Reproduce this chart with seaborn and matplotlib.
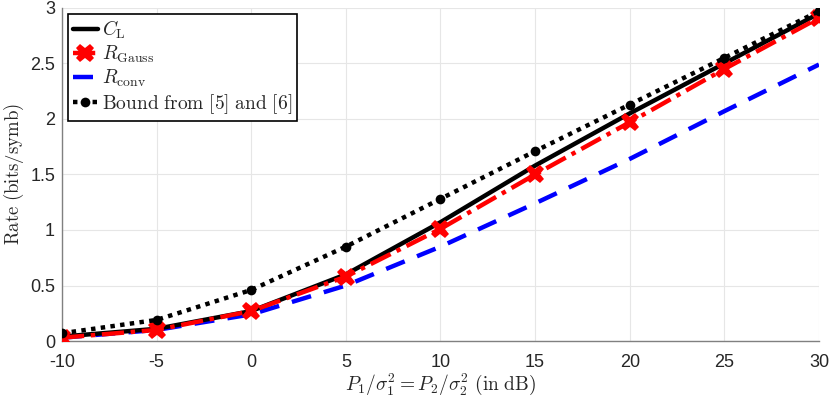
import numpy as np
import pandas as pd
import matplotlib
matplotlib.use("Agg")
import matplotlib.pyplot as plt
import seaborn as sns

# data
snr_db = [-10, -5, 0, 5, 10, 15, 20, 25, 30]
c_l = [0.04, 0.11, 0.27, 0.60, 1.07, 1.58, 2.05, 2.50, 2.95]
r_gauss = [0.03, 0.10, 0.27, 0.58, 1.01, 1.50, 1.97, 2.45, 2.91]
r_conv = [0.03, 0.10, 0.24, 0.50, 0.85, 1.24, 1.64, 2.07, 2.49]
bound = [0.07, 0.19, 0.46, 0.85, 1.28, 1.71, 2.13, 2.55, 2.97]

sns.set_style("white")
plt.rcParams['font.family'] = ['Liberation Sans', 'DejaVu Sans']
plt.rcParams['mathtext.fontset'] = 'cm'
plt.rcParams['axes.unicode_minus'] = False

fig = plt.figure(figsize=(8.3, 3.97), dpi=100)
ax = fig.add_axes([0.0747, 0.141, 0.912, 0.839])

# black solid
sns.lineplot(x=snr_db, y=c_l, ax=ax, color='black', lw=3.2,
             label=r'$C_\mathrm{L}$', zorder=3)
# red dash-dot with X
sns.lineplot(x=snr_db, y=r_gauss, ax=ax, color='red', lw=3.2,
             marker='X', markersize=13, markeredgewidth=0,
             label=r'$R_\mathrm{Gauss}$', zorder=4)
ax.lines[-1].set_dashes([5, 1.5, 1, 1.5])
# blue dashed
sns.lineplot(x=snr_db, y=r_conv, ax=ax, color='blue', lw=3.2,
             label=r'$R_\mathrm{conv}$', zorder=2)
ax.lines[-1].set_dashes([4.5, 3])
# dotted bound
sns.lineplot(x=snr_db, y=bound, ax=ax, color='black', lw=3.2,
             marker='o', markersize=7, markeredgewidth=0,
             label=r'$\mathrm{Bound\ from\ [5]\ and\ [6]}$', zorder=5)
ax.lines[-1].set_dashes([1, 1.2])

ax.set_xlim(-10, 30)
ax.set_ylim(0, 3)
ax.set_xticks(snr_db)
ax.set_yticks([0, 0.5, 1, 1.5, 2, 2.5, 3])
ax.set_yticklabels(['0', '0.5', '1', '1.5', '2', '2.5', '3'])
ax.tick_params(axis='both', direction='in', length=5, labelsize=13,
               color='#808080')
ax.tick_params(axis='x', pad=9)
ax.tick_params(axis='y', pad=5)
ax.grid(True, color='#e6e6e6', lw=0.8)
ax.set_axisbelow(True)
for s in ['top', 'right']:
    ax.spines[s].set_visible(False)
for s in ['left', 'bottom']:
    ax.spines[s].set_color('#808080')
    ax.spines[s].set_linewidth(1.0)

ax.set_xlabel(r'$P_1/\sigma_1^2 = P_2/\sigma_2^2\ \mathrm{(in\ dB)}$', fontsize=14)
ax.set_ylabel(r'$\mathrm{Rate\ (bits/symb)}$', fontsize=13.5)
ax.xaxis.set_label_coords(0.5, -0.092)
ax.yaxis.set_label_coords(-0.048, 0.5)

leg = ax.legend(loc='upper left', fontsize=14, handlelength=1.3,
                handletextpad=0.2, borderpad=0.25, labelspacing=0.15,
                fancybox=False, framealpha=1, borderaxespad=0.3)
leg.get_frame().set_edgecolor('black')
leg.get_frame().set_linewidth(1.2)

fig.savefig('out.png', dpi=100)
